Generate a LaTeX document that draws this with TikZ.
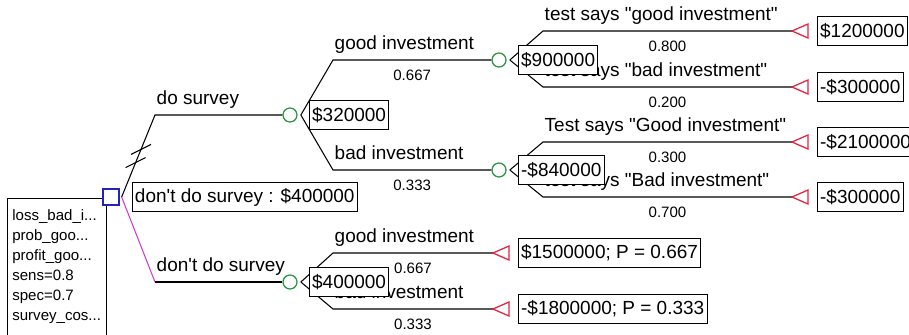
\documentclass[tikz,border=0pt]{standalone}
\usepackage{fontspec}
\usepackage{xcolor}
\usepackage{tikz}
\usetikzlibrary{positioning}
\newfontfamily\treefont{Liberation Sans}
\newcommand\bigtxt{\treefont\fontsize{13.5}{16}\selectfont}
\newcommand\smalltxt{\treefont\fontsize{10.7}{14.2}\selectfont}
\definecolor{decblue}{RGB}{35,35,190}
\definecolor{chgreen}{RGB}{40,150,60}
\definecolor{endred}{RGB}{225,35,65}
\definecolor{optpink}{RGB}{205,60,205}
\tikzstyle{line} = [draw, line width=0.75pt]
\tikzstyle{decision} = [rectangle, draw=decblue, line width=0.9pt, fill=white,
    minimum size=0.4cm, inner sep=0pt]
\tikzstyle{chance} = [circle, draw=chgreen, line width=0.9pt, fill=white,
    minimum size=0.35cm, inner sep=0pt]
\tikzstyle{endnode} = [draw=endred, line width=0.9pt]
\tikzstyle{value} = [rectangle, draw, line width=0.75pt, fill=white, font=\bigtxt,
    inner xsep=0.07cm, inner ysep=0pt, minimum height=0.72cm]
\tikzstyle{branch} = [anchor=base west, inner sep=0pt, xshift=0.03cm, yshift=0.25cm, font=\bigtxt]
\tikzstyle{prob} = [anchor=base, inner sep=0pt, yshift=-0.52cm, font=\smalltxt]
\tikzstyle{legend} = [draw, line width=0.75pt, anchor=north west, align=left, font=\smalltxt,
    text width=2.235cm, inner xsep=0.12cm, inner ysep=0.27cm]

\begin{document}
\begin{tikzpicture}[x=0.025cm, y=-0.025cm]
    \useasboundingbox (0,0) rectangle (909,335);

    % Nodes
    \node [legend] (vars) at (7,198) {loss\_bad\_i...\\prob\_goo...\\profit\_goo...\\sens=0.8\\spec=0.7\\survey\_cos...\\ ~\\ ~};
    \node [decision] (dec) at (111,197) {};
    \coordinate (v0) at ([xshift=0.05cm]dec.east);
    \coordinate (cS) at (155,115);
    \coordinate (cN) at (155,282);

    \node [chance] (ch1) at (290,115) {};
    \node [chance] (ch2) at (290,282) {};
    \node [chance] (ch11) at (499,60) {};
    \node [chance] (ch12) at (499,170) {};
    \foreach \c in {ch1,ch2,ch11,ch12}
        \coordinate (v\c) at ([xshift=0.08cm]\c.east);

    \coordinate (c1g) at (333,60);
    \coordinate (c1b) at (333,170);
    \coordinate (c11a) at (543,31);
    \coordinate (c11b) at (543,87);
    \coordinate (c12a) at (543,142);
    \coordinate (c12b) at (543,197);
    \coordinate (c2g) at (333,253);
    \coordinate (c2b) at (333,309);

    \coordinate (t11) at (792,31);
    \coordinate (t12) at (792,87);
    \coordinate (t21) at (792,142);
    \coordinate (t22) at (792,197);
    \coordinate (t31) at (493,253);
    \coordinate (t32) at (493,309);

    % Connections
    \draw [line] (v0) -- coordinate[pos=0.42] (h1) coordinate[pos=0.58] (h2) (cS)
        -- node[pos=0, branch] (ldo) {do survey} (ch1);
    \draw [line] (h1) ++(-10,5) -- ++(20,-10);
    \draw [line] (h2) ++(-10,5) -- ++(20,-10);
    \draw [line, draw=optpink] (v0) -- (cN);
    \draw [line] (cN) -- node[pos=0, branch] (ldont) {don't do survey} (ch2);

    \draw [line] (vch1) -- (c1g) -- node[pos=0, branch] (l1g) {good investment}
        node[midway, prob] (p1g) {0.667} (ch11);
    \draw [line] (vch1) -- (c1b) -- node[pos=0, branch] (l1b) {bad investment}
        node[midway, prob] (p1b) {0.333} (ch12);

    \draw [line] (vch11) -- (c11a) -- node[pos=0, branch] (l11a) {test says "good investment"}
        node[midway, prob] (p11a) {0.800} (t11);
    \draw [line] (vch11) -- (c11b) -- node[pos=0, branch] (l11b) {test says "bad investment"}
        node[midway, prob] (p11b) {0.200} (t12);
    \draw [line] (vch12) -- (c12a) -- node[pos=0, branch] (l12a) {Test says "Good investment"}
        node[midway, prob] (p12a) {0.300} (t21);
    \draw [line] (vch12) -- (c12b) -- node[pos=0, branch] (l12b) {test says "Bad investment"}
        node[midway, prob] (p12b) {0.700} (t22);

    \draw [line] (vch2) -- (c2g) -- node[pos=0, branch] (l2g) {good investment}
        node[midway, prob] (p2g) {0.667} (t31);
    \draw [line] (vch2) -- (c2b) -- node[pos=0, branch] (l2b) {bad investment}
        node[midway, prob] (p2b) {0.333} (t32);

    % terminal triangles
    \foreach \t in {t11,t12,t21,t22,t31,t32}
        \draw [endnode] (\t) -- ++(16,-7) -- ++(0,14) -- cycle;

    % values
    \node [value, right=0.25cm of v0] (evdont) {don't do survey : \$400000};
    \node [value, right=0.2cm of vch1] (ev1) {\$320000};
    \node [value, right=0.2cm of vch2] (ev2) {\$400000};
    \node [value, right=0.2cm of vch11] (ev11) {\$900000};
    \node [value, right=0.2cm of vch12] (ev12) {-\$840000};
    \node [value, right=0.62cm of t11] (pay11) {\$1200000};
    \node [value, right=0.62cm of t12] (pay12) {-\$300000};
    \node [value, right=0.62cm of t21] (pay21) {-\$2100000};
    \node [value, right=0.62cm of t22] (pay22) {-\$300000};
    \node [value, right=0.62cm of t31] (pay31) {\$1500000; P = 0.667};
    \node [value, right=0.62cm of t32] (pay32) {-\$1800000; P = 0.333};
\end{tikzpicture}
\end{document}
